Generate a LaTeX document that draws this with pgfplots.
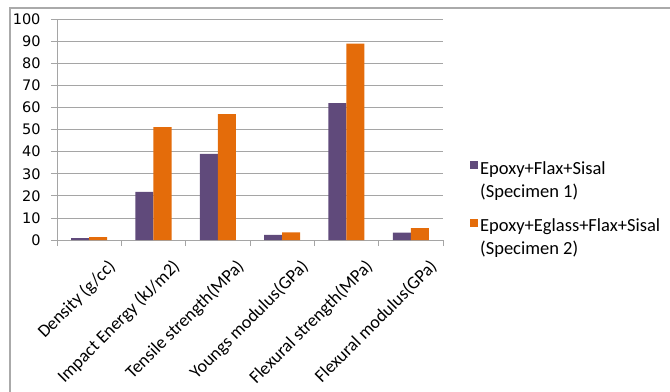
\documentclass[border=0pt]{standalone}
\usepackage{fontspec}
\setmainfont{Carlito}
\newfontfamily\tickfont{DejaVu Sans}
\usepackage{pgfplots}
\pgfplotsset{compat=1.18}
\definecolor{spurple}{RGB}{96,74,123}
\definecolor{sorange}{RGB}{228,108,10}
\definecolor{gridgray}{RGB}{165,165,165}
\definecolor{framegray}{RGB}{170,170,170}
\newcommand{\twoline}[2]{\vtop{\hbox{#1}\hbox{#2}}}
\begin{document}
\begin{tikzpicture}
\path[use as bounding box] (-57bp,-152bp) rectangle (613bp,240bp);
\begin{axis}[
  at={(0,0)}, anchor=south west,
  scale only axis, width=386bp, height=220.7bp,
  xmin=-0.5, xmax=5.5, ymin=0, ymax=100,
  ybar=0pt, bar width=18bp,
  axis x line*=bottom, axis y line*=left,
  axis line style={draw=gridgray, line width=0.8bp},
  xtick={0,...,5},
  xticklabels={Density (g/cc),Impact Energy (kJ/m2),Tensile strength(MPa),Youngs modulus(GPa),Flexural strength(MPa),Flexural modulus(GPa)},
  minor xtick={-0.5,0.5,...,5.5},
  ytick={0,10,...,100},
  minor ytick={},
  tick align=outside,
  major tick length=6bp, minor tick length=6bp,
  xtick style={draw=none},
  minor x tick style={draw=gridgray, line width=0.8bp},
  ytick style={draw=gridgray, line width=0.8bp},
  ymajorgrids, grid style={draw=gridgray, line width=0.8bp},
  /pgf/number format/assume math mode=true,
  yticklabel style={font=\tickfont\fontsize{14.5bp}{17bp}\selectfont, xshift=-7bp},
  xticklabel style={font=\fontsize{18bp}{22bp}\selectfont, rotate=45, anchor=north east, inner sep=0pt, xshift=4bp, yshift=-21bp},
  legend style={at={(1.07,0.367)}, anchor=north west, draw=none, fill=none, inner sep=0pt,
    font=\fontsize{18.5bp}{23bp}\selectfont, cells={anchor=west}, row sep=39bp,
    /tikz/every even column/.append style={column sep=8bp}},
  legend image code/.code={\draw[#1,draw=none] (0bp,-1bp) rectangle (8bp,7bp);},
]
\addplot[fill=spurple, draw=none] coordinates {(0,0.9) (1,21.8) (2,39) (3,2.3) (4,62) (5,3.3)};
\addplot[fill=sorange, draw=none] coordinates {(0,1.3) (1,51.2) (2,57) (3,3.5) (4,89) (5,5.4)};
\legend{{\twoline{Epoxy+Flax+Sisal}{(Specimen 1)}},{\twoline{Epoxy+Eglass+Flax+Sisal}{(Specimen 2)}}}
\end{axis}
\draw[framegray, line width=2bp] (-47bp,-160bp) -- (-47bp,232bp) -- (620bp,232bp);
\end{tikzpicture}
\end{document}
